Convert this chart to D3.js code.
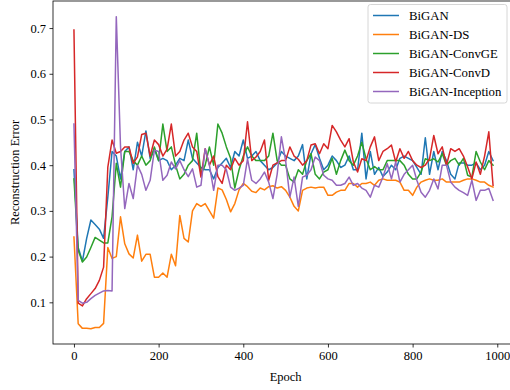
<!DOCTYPE html>
<html>
<head>
<meta charset="utf-8">
<script src="https://cdn.jsdelivr.net/npm/d3@7"></script>
<style>
  html, body { margin: 0; padding: 0; background: #fff; }
  svg { display: block; }
  text { font-family: "Liberation Serif", "Times New Roman", serif; fill: #000; }
</style>
</head>
<body>
<svg id="chart" width="510" height="390"></svg>
<script>
const epochs = d3.range(0, 1000, 10);

const bigan = [
  0.39, 0.22, 0.19, 0.24, 0.28, 0.27, 0.26, 0.24, 0.33, 0.43,
  0.42, 0.37, 0.43, 0.44, 0.39, 0.45, 0.42, 0.475, 0.415, 0.435,
  0.41, 0.415, 0.41, 0.39, 0.40, 0.415, 0.41, 0.455, 0.415, 0.405,
  0.395, 0.39, 0.39, 0.37, 0.395, 0.405, 0.415, 0.395, 0.43, 0.42,
  0.455, 0.415, 0.42, 0.43, 0.41, 0.40, 0.39, 0.395, 0.405, 0.43,
  0.42, 0.415, 0.41, 0.42, 0.445, 0.37, 0.425, 0.445, 0.415, 0.39,
  0.40, 0.42, 0.41, 0.395, 0.40, 0.42, 0.39, 0.39, 0.47, 0.37,
  0.43, 0.38, 0.395, 0.375, 0.385, 0.40, 0.39, 0.415, 0.42, 0.415,
  0.41, 0.395, 0.38, 0.46, 0.38, 0.43, 0.39, 0.43, 0.41, 0.38,
  0.37, 0.405, 0.405, 0.40, 0.40, 0.405, 0.39, 0.40, 0.43, 0.41
];
const biganDS = [
  0.243, 0.053, 0.043, 0.043, 0.042, 0.045, 0.045, 0.054, 0.22, 0.196,
  0.20, 0.287, 0.228, 0.206, 0.197, 0.247, 0.19, 0.205, 0.205, 0.155,
  0.155, 0.164, 0.155, 0.205, 0.18, 0.29, 0.24, 0.232, 0.30, 0.316,
  0.31, 0.316, 0.30, 0.284, 0.35, 0.346, 0.325, 0.298, 0.316, 0.346,
  0.36, 0.353, 0.343, 0.34, 0.35, 0.346, 0.353, 0.355, 0.35, 0.353,
  0.345, 0.33, 0.31, 0.30, 0.345, 0.35, 0.352, 0.35, 0.352, 0.352,
  0.334, 0.334, 0.341, 0.345, 0.345, 0.36, 0.36, 0.352, 0.36, 0.36,
  0.363, 0.356, 0.367, 0.37, 0.367, 0.367, 0.367, 0.363, 0.345, 0.345,
  0.334, 0.352, 0.363, 0.367, 0.37, 0.367, 0.367, 0.37, 0.363, 0.363,
  0.363, 0.363, 0.367, 0.37, 0.37, 0.367, 0.363, 0.363, 0.356, 0.352
];
const biganConvGE = [
  0.37, 0.214, 0.188, 0.199, 0.22, 0.242, 0.236, 0.23, 0.23, 0.287,
  0.404, 0.352, 0.43, 0.43, 0.41, 0.40, 0.42, 0.40, 0.41, 0.44,
  0.41, 0.49, 0.43, 0.44, 0.40, 0.37, 0.38, 0.40, 0.41, 0.47,
  0.38, 0.40, 0.44, 0.40, 0.49, 0.47, 0.44, 0.415, 0.35, 0.39,
  0.42, 0.44, 0.42, 0.41, 0.41, 0.41, 0.42, 0.47, 0.41, 0.40,
  0.40, 0.37, 0.363, 0.39, 0.38, 0.41, 0.425, 0.38, 0.37, 0.385,
  0.39, 0.415, 0.38, 0.41, 0.433, 0.41, 0.40, 0.42, 0.45, 0.414,
  0.39, 0.397, 0.39, 0.39, 0.41, 0.41, 0.41, 0.41, 0.40, 0.38,
  0.37, 0.37, 0.385, 0.414, 0.41, 0.414, 0.407, 0.425, 0.40, 0.41,
  0.415, 0.40, 0.415, 0.378, 0.374, 0.43, 0.407, 0.39, 0.41, 0.40
];
const biganConvD = [
  0.696, 0.098, 0.092, 0.108, 0.119, 0.130, 0.148, 0.177, 0.396, 0.455,
  0.426, 0.43, 0.44, 0.44, 0.404, 0.418, 0.467, 0.47, 0.42, 0.455,
  0.445, 0.42, 0.435, 0.49, 0.42, 0.43, 0.455, 0.47, 0.44, 0.43,
  0.374, 0.436, 0.40, 0.42, 0.375, 0.36, 0.40, 0.39, 0.415, 0.40,
  0.41, 0.495, 0.41, 0.418, 0.43, 0.455, 0.367, 0.40, 0.405, 0.41,
  0.41, 0.44, 0.42, 0.413, 0.40, 0.41, 0.444, 0.447, 0.425, 0.447,
  0.436, 0.487, 0.473, 0.455, 0.44, 0.458, 0.407, 0.385, 0.414, 0.41,
  0.44, 0.462, 0.41, 0.43, 0.436, 0.444, 0.407, 0.436, 0.415, 0.43,
  0.41, 0.40, 0.395, 0.40, 0.414, 0.465, 0.425, 0.44, 0.40, 0.436,
  0.43, 0.436, 0.42, 0.396, 0.37, 0.407, 0.38, 0.42, 0.473, 0.356
];
const biganInception = [
  0.49, 0.104, 0.098, 0.10, 0.108, 0.115, 0.12, 0.125, 0.126, 0.125,
  0.725, 0.44, 0.305, 0.36, 0.327, 0.40, 0.38, 0.345, 0.367, 0.433,
  0.43, 0.367, 0.378, 0.407, 0.392, 0.41, 0.39, 0.375, 0.392, 0.352,
  0.356, 0.436, 0.40, 0.345, 0.40, 0.40, 0.39, 0.352, 0.345, 0.35,
  0.356, 0.414, 0.367, 0.36, 0.37, 0.385, 0.363, 0.327, 0.38, 0.462,
  0.41, 0.33, 0.374, 0.31, 0.374, 0.378, 0.39, 0.418, 0.41, 0.378,
  0.37, 0.367, 0.356, 0.356, 0.36, 0.374, 0.356, 0.36, 0.35, 0.345,
  0.33, 0.356, 0.352, 0.374, 0.403, 0.37, 0.407, 0.363, 0.38, 0.39,
  0.40, 0.367, 0.341, 0.33, 0.345, 0.37, 0.348, 0.40, 0.40, 0.363,
  0.352, 0.345, 0.34, 0.334, 0.367, 0.323, 0.345, 0.345, 0.349, 0.323
];

const seriesNames = ["BiGAN", "BiGAN-DS", "BiGAN-ConvGE", "BiGAN-ConvD", "BiGAN-Inception"];
const seriesValues = [bigan, biganDS, biganConvGE, biganConvD, biganInception];
const seriesColors = ["#1f77b4", "#ff7f0e", "#2ca02c", "#d62728", "#9467bd"];
const xTicks = [0, 200, 400, 600, 800, 1000];
const yTicks = [0.1, 0.2, 0.3, 0.4, 0.5, 0.6, 0.7];

const svg = d3.select("#chart");
const plot = { left: 53, right: 514, top: 1, bottom: 344 };

const x = d3.scaleLinear().domain([-49.5, 1039.5]).range([plot.left, plot.right]);
const y = d3.scaleLinear().domain([0.0088, 0.7592]).range([plot.bottom, plot.top]);

// lines
const line = d3.line().x((d, i) => x(epochs[i])).y(d => y(d));
seriesValues.forEach((vals, k) => {
  svg.append("path")
    .datum(vals)
    .attr("fill", "none")
    .attr("stroke", seriesColors[k])
    .attr("stroke-width", 1.5)
    .attr("stroke-linejoin", "round")
    .attr("stroke-linecap", "square")
    .attr("d", line);
});

// spines
const spine = svg.append("g").attr("stroke", "#000").attr("stroke-width", 0.8).attr("fill", "none");
spine.append("rect")
  .attr("x", plot.left).attr("y", plot.top)
  .attr("width", plot.right - plot.left).attr("height", plot.bottom - plot.top);

// axes
const xAxis = d3.axisBottom(x).tickValues(xTicks).tickSize(3.5).tickPadding(3.5).tickFormat(d3.format("d"));
const yAxis = d3.axisLeft(y).tickValues(yTicks).tickSize(3.5).tickPadding(3.5).tickFormat(d3.format(".1f"));

const gx = svg.append("g").attr("transform", `translate(0,${plot.bottom})`).call(xAxis);
const gy = svg.append("g").attr("transform", `translate(${plot.left},0)`).call(yAxis);
[gx, gy].forEach(g => {
  g.select(".domain").remove();
  g.selectAll(".tick line").attr("stroke", "#000").attr("stroke-width", 0.8);
  g.selectAll(".tick text")
    .attr("font-family", "'Liberation Serif', 'Times New Roman', serif")
    .attr("font-size", 12.5)
    .attr("fill", "#000");
});

svg.append("text")
  .attr("x", x(500)).attr("y", 381)
  .attr("text-anchor", "middle")
  .attr("font-size", 12.5)
  .text("Epoch");

svg.append("text")
  .attr("transform", `translate(19,${(plot.top + plot.bottom) / 2}) rotate(-90)`)
  .attr("text-anchor", "middle")
  .attr("font-size", 12.5)
  .text("Reconstruction Error");

// legend
const lg = svg.append("g");
lg.append("rect")
  .attr("x", 368).attr("y", 4.5).attr("width", 139).attr("height", 98.5)
  .attr("rx", 2.5).attr("ry", 2.5)
  .attr("fill", "#fff").attr("fill-opacity", 0.8)
  .attr("stroke", "#cccccc").attr("stroke-width", 0.8);
seriesNames.forEach((name, k) => {
  const cy = 15.5 + k * 19;
  lg.append("line")
    .attr("x1", 373).attr("x2", 399).attr("y1", cy).attr("y2", cy)
    .attr("stroke", seriesColors[k]).attr("stroke-width", 1.5);
  lg.append("text")
    .attr("x", 409).attr("y", cy + 4.3)
    .attr("font-size", 12.8)
    .text(name);
});
</script>
</body>
</html>
